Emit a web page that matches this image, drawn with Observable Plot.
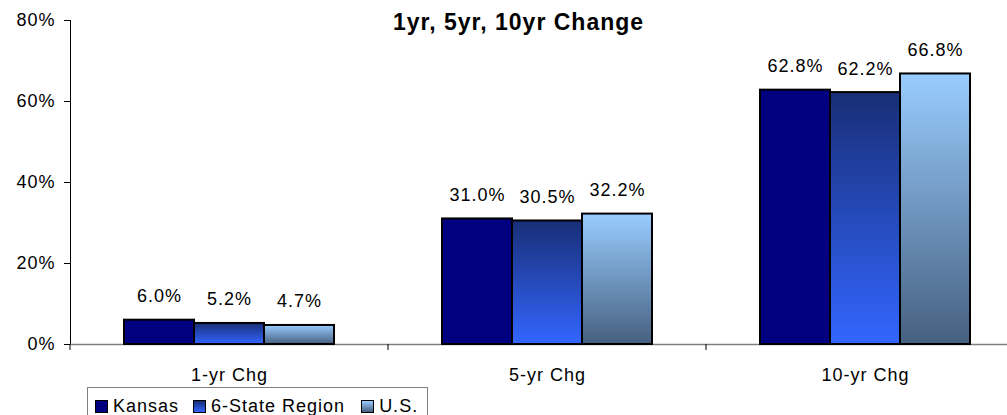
<!DOCTYPE html>
<html>
<head>
<meta charset="utf-8">
<script src="https://cdn.jsdelivr.net/npm/d3@7"></script>
<script src="https://cdn.jsdelivr.net/npm/@observablehq/plot@0.6"></script>
<style>
  html, body { margin: 0; padding: 0; background: #fff; overflow: hidden; }
  #wrap { position: relative; width: 1007px; height: 415px; font-family: "Liberation Sans", Arial, sans-serif; }
  #legend {
    position: absolute; left: 87px; top: 387px; width: 341px; height: 40px;
    border: 1px solid #7f7f7f; box-sizing: border-box; white-space: nowrap;
    display: flex; align-items: flex-start; padding: 8px 0 0 7px;
    font-size: 18px; letter-spacing: 1px; color: #000; line-height: 20px;
  }
  .item { display: flex; align-items: center; margin-right: 14px; flex: none; white-space: nowrap; }
  .item:nth-child(2) { margin-right: 16px; }
  .sw { width: 13px; height: 13px; border: 1.5px solid #000; box-sizing: border-box; margin-right: 5px; margin-top: 1px; flex: none; }
</style>
</head>
<body>
<div id="wrap"></div>
<script>
const categories = ["1-yr Chg", "5-yr Chg", "10-yr Chg"];
const series = ["Kansas", "6-State Region", "U.S."];
const kansas = [6.0, 31.0, 62.8];
const region = [5.2, 30.5, 62.2];
const us = [4.7, 32.2, 66.8];
const yTicks = [0, 20, 40, 60, 80];
const title = "1yr, 5yr, 10yr Change";
const fills = ["#000080", "url(#g6)", "url(#gus)"];
const cssFills = ["#000080", "linear-gradient(#182e76, #3366ff)", "linear-gradient(#99ccff, #466080)"];

const valuesBySeries = [kansas, region, us];
const data = categories.flatMap((c, i) =>
  series.map((s, j) => ({cat: c, series: s, value: valuesBySeries[j][i]}))
);

const chart = Plot.plot({
  width: 1007,
  height: 387,
  marginTop: 20,
  marginBottom: 43,
  marginLeft: 69,
  marginRight: -18,
  style: {fontFamily: "'Liberation Sans', Arial, sans-serif", fontSize: "18px", letterSpacing: "1px", color: "#000", background: "#fff", overflow: "visible"},
  fx: {domain: categories, paddingInner: 0, paddingOuter: 0, label: null, tickSize: 0, tickPadding: 24},
  x: {domain: series, paddingInner: 0, paddingOuter: 0.75, axis: null},
  y: {domain: [0, 80], ticks: yTicks, tickFormat: d => d + "%", tickSize: 6, tickPadding: 9, line: true, label: null},
  color: {type: "ordinal", domain: series, range: fills},
  marks: [
    Plot.ruleY([0], {stroke: "#808080", strokeWidth: 1.5}),
    Plot.barY(data, {fx: "cat", x: "series", y: "value", fill: "series", stroke: "#000", strokeWidth: 2}),
    Plot.text(data, {fx: "cat", x: "series", y: "value", text: d => d.value.toFixed(1) + "%", lineAnchor: "bottom", dy: -18, fontSize: 18, fill: "#000"}),
    Plot.text([title], {fx: ["5-yr Chg"], text: d => d, frameAnchor: "top", lineAnchor: "top", dy: -7, dx: -29, fontSize: 23, fontWeight: "bold", fill: "#000", style: "letter-spacing:2.2px"})
  ]
});

const svg = d3.select(chart);
const defs = svg.insert("defs", ":first-child");
const g6 = defs.append("linearGradient").attr("id", "g6").attr("x1", 0).attr("y1", 0).attr("x2", 0).attr("y2", 1);
g6.append("stop").attr("offset", "0%").attr("stop-color", "#182e76");
g6.append("stop").attr("offset", "100%").attr("stop-color", "#3366ff");
const gus = defs.append("linearGradient").attr("id", "gus").attr("x1", 0).attr("y1", 0).attr("x2", 0).attr("y2", 1);
gus.append("stop").attr("offset", "0%").attr("stop-color", "#99ccff");
gus.append("stop").attr("offset", "100%").attr("stop-color", "#466080");

// category boundary ticks on the x axis
const fx = chart.scale("fx");
const yScale = chart.scale("y");
const y0 = yScale.apply(0);
svg.append("g").selectAll("line").data(categories).join("line")
  .attr("x1", d => fx.apply(d)).attr("x2", d => fx.apply(d))
  .attr("y1", y0).attr("y2", y0 + 6)
  .attr("stroke", "#000").attr("stroke-width", 1);

const wrap = document.getElementById("wrap");
wrap.appendChild(chart);

const legend = document.createElement("div");
legend.id = "legend";
series.forEach((s, j) => {
  const it = document.createElement("div");
  it.className = "item";
  const sw = document.createElement("span");
  sw.className = "sw";
  sw.style.background = cssFills[j];
  const t = document.createElement("span");
  t.textContent = s;
  it.appendChild(sw);
  it.appendChild(t);
  legend.appendChild(it);
});
wrap.appendChild(legend);
</script>
</body>
</html>
